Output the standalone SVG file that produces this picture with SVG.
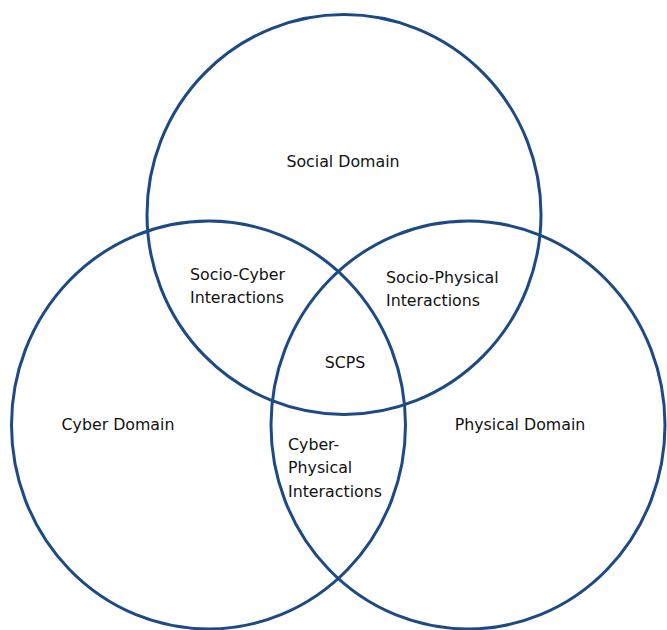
<svg xmlns="http://www.w3.org/2000/svg" width="667" height="630" viewBox="0 0 667 630">
<style>
.c{fill:none;stroke:#1d4a85;stroke-width:3}
.t{font-family:"DejaVu Sans",Verdana,sans-serif;font-size:15.8px;fill:#111}
</style>
<rect width="667" height="630" fill="#fff"/>
<g id="connectors"></g>
<g id="social"><ellipse class="c" cx="344" cy="214.5" rx="197" ry="200"/><text class="t" x="343" y="167" text-anchor="middle">Social Domain</text></g>
<g id="cyber"><ellipse class="c" cx="208.5" cy="425" rx="197" ry="204"/><text class="t" x="118" y="430" text-anchor="middle">Cyber Domain</text></g>
<g id="physical"><ellipse class="c" cx="468" cy="425" rx="197" ry="204"/><text class="t" x="520" y="430" text-anchor="middle">Physical Domain</text></g>
<g id="socio-cyber"><text class="t" x="190" y="280">Socio-Cyber</text><text class="t" x="190" y="303">Interactions</text></g>
<g id="socio-physical"><text class="t" x="386" y="283">Socio-Physical</text><text class="t" x="386" y="306">Interactions</text></g>
<g id="scps"><text class="t" x="345" y="368" text-anchor="middle">SCPS</text></g>
<g id="cyber-physical"><text class="t" x="288" y="450">Cyber-</text><text class="t" x="288" y="473">Physical</text><text class="t" x="288" y="497">Interactions</text></g>
</svg>
